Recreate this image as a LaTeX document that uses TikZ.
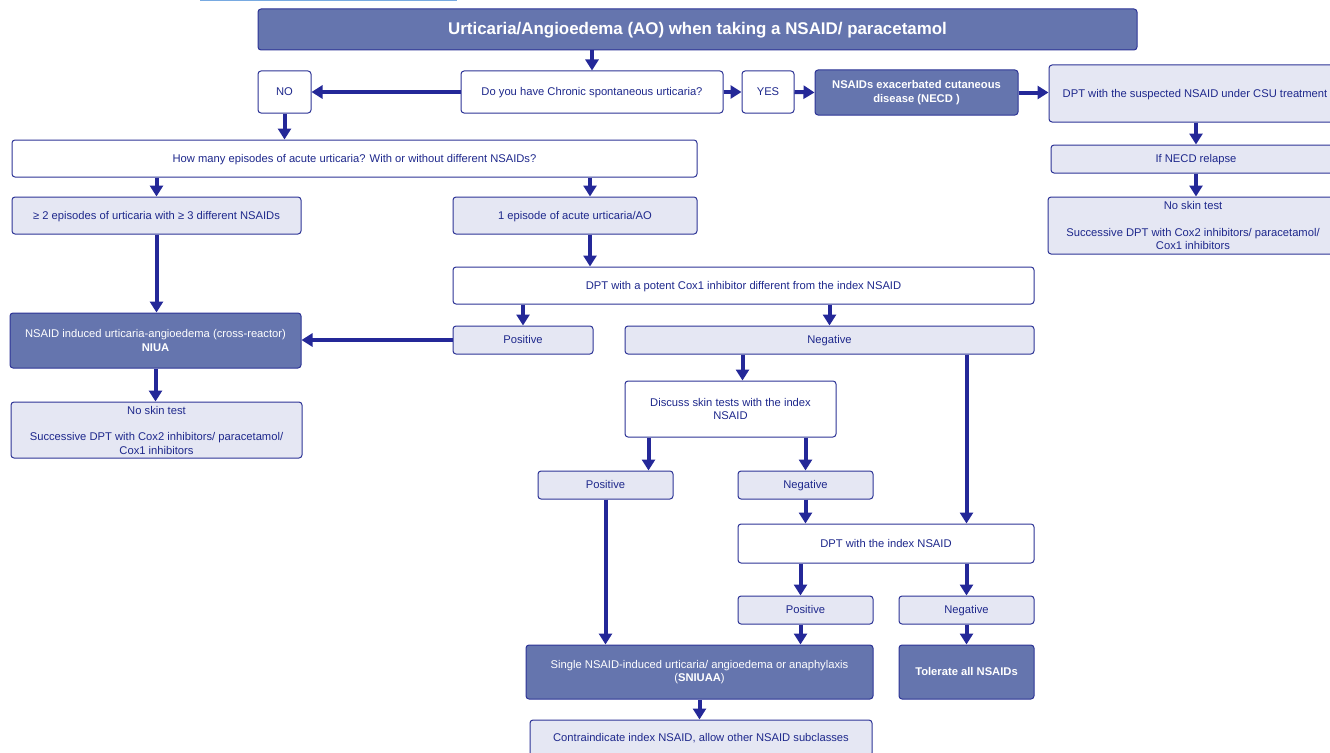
\documentclass[tikz,border=0pt]{standalone}
\usepackage{fontspec}
\setmainfont{Liberation Sans}
\usetikzlibrary{arrows.meta}

\definecolor{darkc}{RGB}{101,117,174}
\definecolor{lightc}{RGB}{229,231,243}
\definecolor{bordc}{RGB}{45,52,150}
\definecolor{txtc}{RGB}{30,40,140}
\definecolor{arrc}{RGB}{36,40,152}
\definecolor{topc}{RGB}{120,170,225}

\begin{document}
\begin{tikzpicture}[x=1pt,y=-1pt,
 box/.style={draw=bordc,line width=1pt,rounded corners=3pt,align=center,inner sep=1pt,text=txtc,font=\fontsize{11.2}{13.5}\selectfont},
 oneline/.style={text height=8pt,text depth=1pt},
 wbox/.style={box,fill=white},
 lbox/.style={box,fill=lightc},
 dbox/.style={box,fill=darkc,text=white},
 arr/.style={draw=arrc,line width=4pt,-{Triangle[width=13pt,length=11pt]}}]
\useasboundingbox (0,0) rectangle (1330,752);
\clip (0,0) rectangle (1330,752);
\draw[topc,line width=2pt] (200,0.5) -- (457,0.5);
% title
\node[dbox,minimum width=879pt,minimum height=41pt,text height=12pt,text depth=2pt,font=\fontsize{16.9}{20}\selectfont\bfseries] (title) at (697.5,29.5) {Urticaria/Angioedema (AO) when taking a NSAID/ paracetamol};
% CSU question
\node[wbox,oneline,minimum width=262pt,minimum height=42pt] (q) at (592,92) {Do you have Chronic spontaneous urticaria?};
\node[wbox,oneline,minimum width=53pt,minimum height=42pt] (no) at (284.5,92) {NO};
\node[wbox,oneline,minimum width=52pt,minimum height=42pt] (yes) at (768,92) {YES};
\node[dbox,minimum width=203pt,minimum height=45pt,font=\fontsize{11.2}{13.5}\selectfont\bfseries] (necd) at (916.5,92.5) {NSAIDs exacerbated cutaneous\\disease (NECD )};
\node[lbox,oneline,minimum width=292pt,minimum height=57pt] (dpts) at (1195,93.5) {DPT with the suspected NSAID under CSU treatment};
\node[lbox,oneline,minimum width=290pt,minimum height=28pt] (relapse) at (1196,159) {If NECD relapse};
\node[lbox,minimum width=290pt,minimum height=57pt] (nsr) at (1193,225.5) {No skin test\\[13pt]Successive DPT with Cox2 inhibitors/ paracetamol/\\Cox1 inhibitors};
% episodes
\node[wbox,oneline,minimum width=685pt,minimum height=37pt] (howmany) at (354.5,158.5) {How many episodes of acute urticaria? With or without different NSAIDs?};
\node[lbox,oneline,minimum width=289pt,minimum height=37pt] (ge) at (156.5,215.5) {≥ 2 episodes of urticaria with ≥ 3 different NSAIDs};
\node[lbox,oneline,minimum width=244pt,minimum height=37pt] (ep) at (575,215.5) {1 episode of acute urticaria/AO};
\node[wbox,oneline,minimum width=581pt,minimum height=37pt] (dptc) at (743.5,285.5) {DPT with a potent Cox1 inhibitor different from the index NSAID};
\node[lbox,oneline,minimum width=140pt,minimum height=28pt] (pos1) at (523,340) {Positive};
\node[lbox,oneline,minimum width=409pt,minimum height=28pt] (neg1) at (829.5,340) {Negative};
% cross-reactor
\node[dbox,minimum width=291pt,minimum height=55pt] (niua) at (155.5,340.5) {NSAID induced urticaria-angioedema (cross-reactor)\\\textbf{NIUA}};
\node[lbox,minimum width=291pt,minimum height=56pt] (nsl) at (156.5,430) {No skin test\\[13pt]Successive DPT with Cox2 inhibitors/ paracetamol/\\Cox1 inhibitors};
% skin tests
\node[wbox,minimum width=211pt,minimum height=56pt] (disc) at (730.5,409) {Discuss skin tests with the index\\NSAID};
\node[lbox,oneline,minimum width=135pt,minimum height=28pt] (pos2) at (605.5,485) {Positive};
\node[lbox,oneline,minimum width=135pt,minimum height=28pt] (neg2) at (805.5,485) {Negative};
\node[wbox,oneline,minimum width=296pt,minimum height=39pt] (dpti) at (886,543.5) {DPT with the index NSAID};
\node[lbox,oneline,minimum width=135pt,minimum height=28pt] (pos3) at (805.5,610) {Positive};
\node[lbox,oneline,minimum width=135pt,minimum height=28pt] (neg3) at (966.5,610) {Negative};
\node[dbox,minimum width=347pt,minimum height=54pt] (sn) at (699.5,672) {Single NSAID-induced urticaria/ angioedema or anaphylaxis\\(\textbf{SNIUAA})};
\node[dbox,oneline,minimum width=135pt,minimum height=54pt,font=\fontsize{11.2}{13.5}\selectfont\bfseries] (tol) at (966.5,672) {Tolerate all NSAIDs};
\node[lbox,oneline,minimum width=342pt,minimum height=36pt] (contra) at (701,738) {Contraindicate index NSAID, allow other NSAID subclasses};

% connectors
\draw[arr] (q.north |- title.south) -- (q.north);
\draw[arr] (q.west) -- (no.east);
\draw[arr] (q.east) -- (yes.west);
\draw[arr] (yes.east) -- (necd.west);
\draw[arr] (necd.east) -- (necd.east -| dpts.west);
\draw[arr] (relapse.north |- dpts.south) -- (relapse.north);
\draw[arr] (relapse.south) -- (relapse.south |- nsr.north);
\draw[arr] (no.south) -- (no.south |- howmany.north);
\draw[arr] (ge.north |- howmany.south) -- (ge.north);
\draw[arr] ([xshift=15pt]ep.north |- howmany.south) -- ([xshift=15pt]ep.north);
\draw[arr] (ge.south) -- (ge.south |- niua.north);
\draw[arr] ([xshift=15pt]ep.south) -- ([xshift=15pt]ep.south |- dptc.north);
\draw[arr] (pos1.north |- dptc.south) -- (pos1.north);
\draw[arr] (neg1.north |- dptc.south) -- (neg1.north);
\draw[arr] (pos1.west) -- (pos1.west -| niua.east);
\draw[arr] (niua.south) -- (niua.south |- nsl.north);
\draw[arr] ([xshift=12pt]disc.north |- neg1.south) -- ([xshift=12pt]disc.north);
\draw[arr] (neg3.north |- neg1.south) -- (neg3.north |- dpti.north);
\draw[arr] ([xshift=24pt]disc.south west) -- ([xshift=24pt]disc.south west |- pos2.north);
\draw[arr] (neg2.north |- disc.south) -- (neg2.north);
\draw[arr] (neg2.south) -- (neg2.south |- dpti.north);
\draw[arr] (pos2.south) -- (pos2.south |- sn.north);
\draw[arr] ([xshift=-5pt]pos3.north |- dpti.south) -- ([xshift=-5pt]pos3.north);
\draw[arr] (neg3.north |- dpti.south) -- (neg3.north);
\draw[arr] ([xshift=-5pt]pos3.south) -- ([xshift=-5pt]pos3.south |- sn.north);
\draw[arr] (neg3.south) -- (tol.north);
\draw[arr] (sn.south) -- (sn.south |- contra.north);
\end{tikzpicture}
\end{document}
